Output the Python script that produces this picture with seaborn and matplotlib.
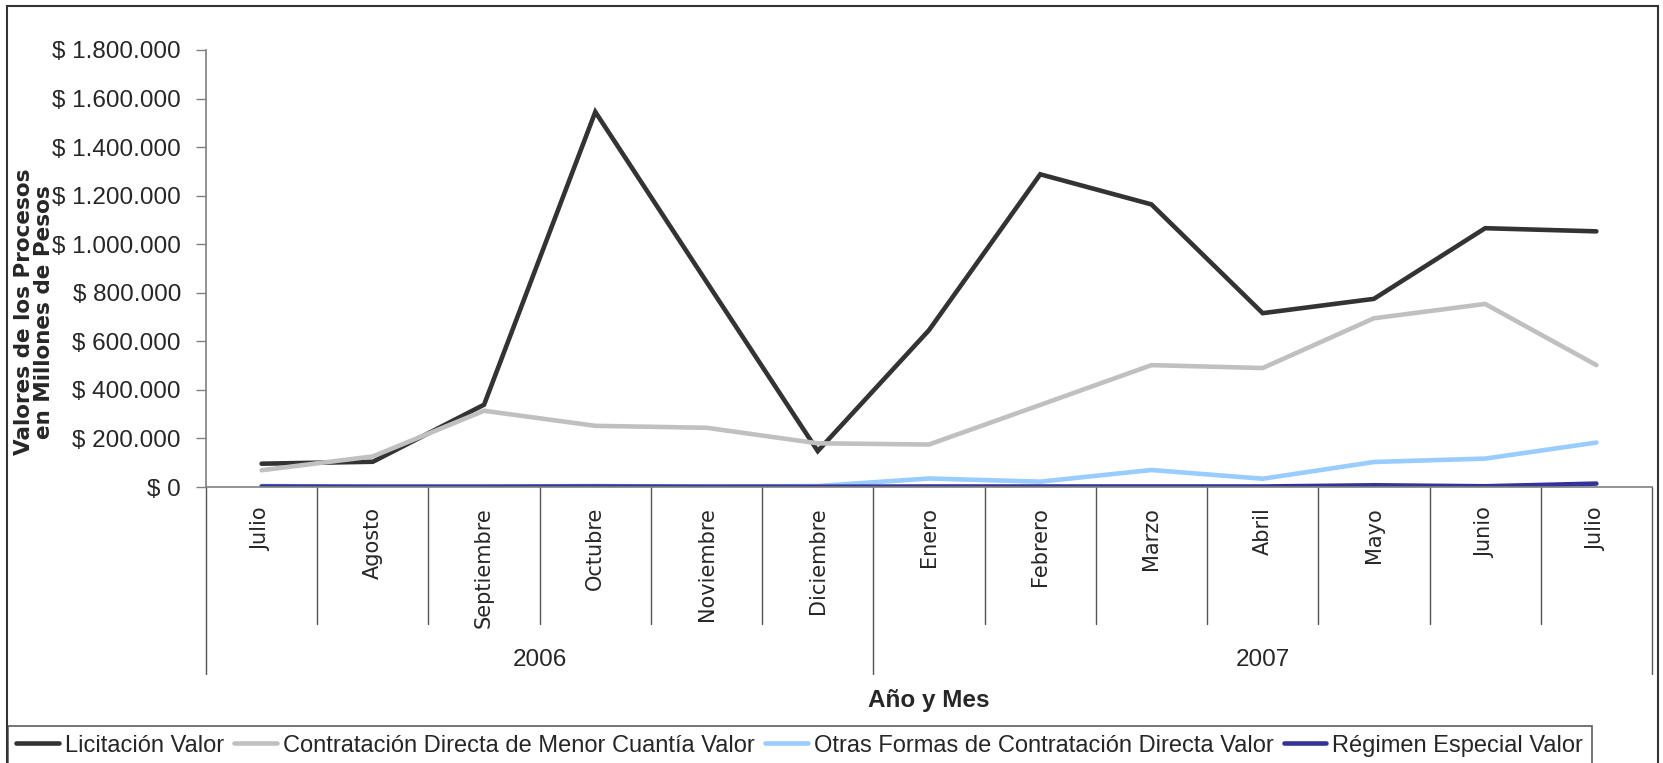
import numpy as np
import pandas as pd
import seaborn as sns
import matplotlib.pyplot as plt
from matplotlib.patches import Rectangle
from matplotlib.ticker import FuncFormatter

# -------------------------
# Data (millones de pesos)
# -------------------------
meses = ["Julio", "Agosto", "Septiembre", "Octubre", "Noviembre", "Diciembre",
         "Enero", "Febrero", "Marzo", "Abril", "Mayo", "Junio", "Julio"]
anios = ["2006", "2007"]
meses_por_anio = [6, 7]

licitacion = [96000, 104000, 339000, 1545000, 845000, 148000, 646000,
              1288000, 1164000, 716000, 775000, 1066000, 1053000]
contratacion = [69000, 126000, 314000, 252000, 244000, 180000, 175000,
                338000, 502000, 490000, 695000, 754000, 502000]
otras = [4000, 2000, 2000, 4000, 2000, 4000, 35000,
         22000, 70000, 34000, 103000, 117000, 183000]
regimen = [2000, 1000, 1000, 2000, 1000, 1000, 2000,
           2000, 2000, 2000, 7000, 3000, 14000]

series = ["Licitación Valor",
          "Contratación Directa de Menor Cuantía Valor",
          "Otras Formas de Contratación Directa Valor",
          "Régimen Especial Valor"]
colores = ["#333333", "#C0C0C0", "#99CCFF", "#333399"]

df = pd.DataFrame({
    "pos": np.tile(np.arange(len(meses)), 4),
    "valor": licitacion + contratacion + otras + regimen,
    "serie": np.repeat(series, len(meses)),
})

# -------------------------
# Style
# -------------------------
sns.set_style("white")
plt.rcParams["font.family"] = ["DejaVu Sans"]
NARROW = ["Liberation Sans", "DejaVu Sans"]

W, H = 1663, 763
fig = plt.figure(figsize=(W / 100, H / 100), dpi=100)
ax = fig.add_axes([206 / W, 1 - 487 / H, (1652 - 206) / W, (487 - 50) / H])

sns.lineplot(data=df, x="pos", y="valor", hue="serie", hue_order=series,
             palette=colores, linewidth=3.3, ax=ax, legend=False)
for line in ax.lines:
    line.set_solid_capstyle("round")
    line.set_solid_joinstyle("miter")

ax.set_xlim(-0.5, len(meses) - 0.5)
ax.set_ylim(0, 1800000)
ax.set_yticks(np.arange(0, 1800001, 200000))
ax.yaxis.set_major_formatter(FuncFormatter(lambda v, _: "$ " + f"{int(v):,}".replace(",", ".")))
ax.tick_params(axis="y", left=True, length=7, width=1, color="#808080",
               pad=11, labelsize=17.5)
for lbl in ax.get_yticklabels():
    lbl.set_family(NARROW)
ax.set_xticks([])
ax.set_xlabel("")
ax.set_ylabel("")
for s in ["top", "right"]:
    ax.spines[s].set_visible(False)
for s in ["left", "bottom"]:
    ax.spines[s].set_color("#808080")
    ax.spines[s].set_linewidth(1.2)

# -------------------------
# Two-level category axis
# -------------------------
tr = ax.get_xaxis_transform()
alto = 487 - 50
y_cat = -(624 - 487) / alto
y_year = -(674 - 487) / alto
for i, m in enumerate(meses):
    ax.text(i, -20 / alto, m, rotation=90, ha="center", va="top",
            fontsize=15, transform=tr)

limites = np.cumsum([0] + meses_por_anio) - 0.5
for b in np.arange(0.5, len(meses) - 1, 1.0):
    y_end = y_year if b in limites else y_cat
    ax.plot([b, b], [0, y_end], color="#555555", lw=1, transform=tr, clip_on=False)
for b in [limites[0], limites[-1]]:
    ax.plot([b, b], [0, y_year], color="#555555", lw=1, transform=tr, clip_on=False)

for j, a in enumerate(anios):
    centro = (limites[j] + limites[j + 1]) / 2
    ax.text(centro, -(660 - 487) / alto, a, ha="center", va="center",
            fontsize=17.5, family=NARROW, transform=tr)

ax.text((len(meses) - 1) / 2, -(701 - 487) / alto, "Año y Mes",
        ha="center", va="center", fontsize=17.5, fontweight="bold",
        family=NARROW, transform=tr)

fig.text(34 / W, 1 - 312 / H, "Valores de los Procesos\nen Millones de Pesos",
         rotation=90, ha="center", va="center", fontsize=15.5,
         fontweight="bold", linespacing=1.0)

# -------------------------
# Legend and outer frame
# -------------------------
handles = [plt.Line2D([], [], color=c, lw=3.3) for c in colores]
leg = fig.legend(handles, series, loc="lower left",
                 bbox_to_anchor=(8 / W, -2 / H), ncol=4, frameon=True,
                 fancybox=False, borderaxespad=0, handlelength=1.8,
                 handletextpad=0.25, columnspacing=0.45, borderpad=0.35,
                 prop={"family": NARROW, "size": 17})
leg.get_frame().set_edgecolor("#333333")
leg.get_frame().set_linewidth(1.2)

fig.patches.append(Rectangle((7 / W, -0.01), (1658 - 7) / W, 1 - 6 / H + 0.01,
                             transform=fig.transFigure, fill=False,
                             edgecolor="#333333", lw=1.5))

fig.savefig("out.png", dpi=100)
